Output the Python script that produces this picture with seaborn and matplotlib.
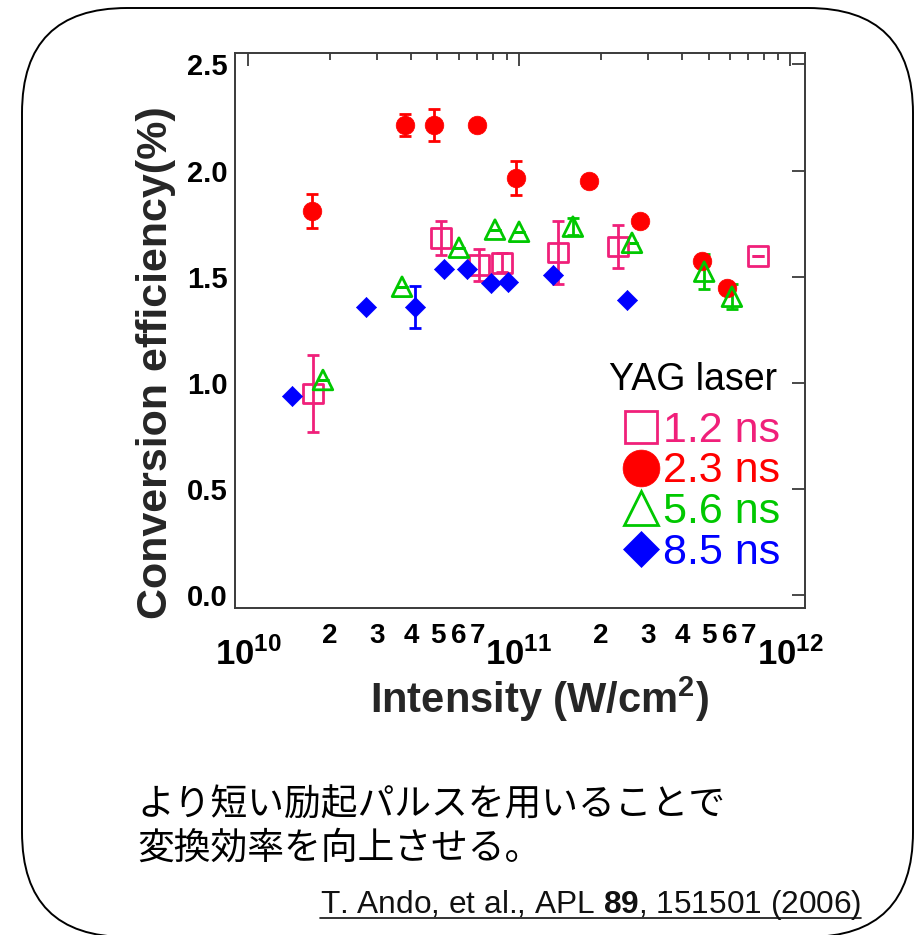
import numpy as np
import pandas as pd
import matplotlib
matplotlib.use("Agg")
import matplotlib.pyplot as plt
import seaborn as sns
from matplotlib.patches import FancyBboxPatch
from matplotlib.ticker import FixedLocator, FixedFormatter
from matplotlib.lines import Line2D

# ---------------- data ----------------
pulse_labels = ["1.2 ns", "2.3 ns", "5.6 ns", "8.5 ns"]

i12_x = [1.74e10, 5.15e10, 7.1e10, 8.65e10, 1.39e11, 2.32e11, 7.62e11]
i12_y = [0.95, 1.684, 1.557, 1.566, 1.615, 1.642, 1.599]
i12_err = [0.18, 0.08, 0.075, 0.045, 0.15, 0.10, 0.0]

i23_x = [1.72e10, 3.8e10, 4.85e10, 7.0e10, 9.75e10, 1.81e11, 2.79e11, 4.73e11, 5.86e11]
i23_y = [1.81, 2.215, 2.215, 2.215, 1.965, 1.953, 1.764, 1.575, 1.448]
i23_err = [0.08, 0.05, 0.075, 0.0, 0.08, 0.0, 0.0, 0.0, 0.0]

i56_x = [1.89e10, 3.7e10, 6.0e10, 8.15e10, 1.0e11, 1.58e11, 2.61e11, 4.82e11, 6.1e11]
i56_y = [1.014, 1.453, 1.637, 1.722, 1.712, 1.736, 1.660, 1.524, 1.406]
i56_err = [0.0, 0.0, 0.0, 0.0, 0.0, 0.04, 0.0, 0.083, 0.06]

i85_x = [1.45e10, 2.72e10, 4.13e10, 5.29e10, 6.43e10, 7.9e10, 9.1e10, 1.33e11, 2.5e11]
i85_y = [0.939, 1.358, 1.358, 1.538, 1.538, 1.472, 1.476, 1.509, 1.392]
i85_err = [0.0, 0.0, 0.1, 0.0, 0.0, 0.0, 0.0, 0.0, 0.0]

y_ticks = [0.0, 0.5, 1.0, 1.5, 2.0, 2.5]
y_tick_labels = ["0.0", "0.5", "1.0", "1.5", "2.0", "2.5"]
x_major = [1e10, 1e11, 1e12]
x_major_labels = [r"$\mathrm{10^{10}}$", r"$\mathrm{10^{11}}$", r"$\mathrm{10^{12}}$"]
minor_mult = [2, 3, 4, 5, 6, 7, 8, 9]
minor_labels = ["2", "3", "4", "5", "6", "7", "", ""]

legend_title = "YAG laser"
x_label = r"Intensity (W/cm$^{2}$)"
y_label = "Conversion efficiency(%)"
jp_line1 = "より短い励起パルスを用いることで"
jp_line2 = "変換効率を向上させる。"
citation = r"T. Ando, et al., APL $\mathbf{89}$, 151501 (2006)"

colors = {"1.2 ns": "#F0207A", "2.3 ns": "#FF0000", "5.6 ns": "#00C800", "8.5 ns": "#0000FF"}

frames = []
for lab, xs, ys, es in zip(pulse_labels, [i12_x, i23_x, i56_x, i85_x],
                           [i12_y, i23_y, i56_y, i85_y], [i12_err, i23_err, i56_err, i85_err]):
    frames.append(pd.DataFrame({"pulse": lab, "I": xs, "CE": ys, "err": es}))
df = pd.concat(frames, ignore_index=True)

# ---------------- style ----------------
sns.set_theme(style="white")
plt.rcParams["font.family"] = ["Liberation Sans", "DejaVu Sans"]
plt.rcParams["font.weight"] = "bold"
plt.rcParams["mathtext.fontset"] = "custom"
plt.rcParams["mathtext.rm"] = "Liberation Sans:bold"
plt.rcParams["mathtext.it"] = "Liberation Sans:bold"
plt.rcParams["mathtext.bf"] = "Liberation Sans:bold"

W, H = 922, 935
fig = plt.figure(figsize=(W / 100, H / 100), dpi=100)
fig.patch.set_facecolor("white")
ax = fig.add_axes([235 / W, 1 - 608 / H, 570 / W, 555 / H])
ax.set_xscale("log")

specs = {
    "1.2 ns": dict(marker="s", s=200, filled=False),
    "2.3 ns": dict(marker="o", s=180, filled=True),
    "5.6 ns": dict(marker="^", s=200, filled=False),
    "8.5 ns": dict(marker="D", s=105, filled=True),
}

for lab in pulse_labels:
    sub = df[df["pulse"] == lab]
    c = colors[lab]
    sp = specs[lab]
    ax.errorbar(sub["I"], sub["CE"], yerr=sub["err"], fmt="none", ecolor=c,
                elinewidth=2, capsize=4.5, capthick=2, zorder=2)
    sns.scatterplot(data=sub, x="I", y="CE", marker=sp["marker"], s=sp["s"],
                    color=c, ax=ax, legend=False, zorder=3)
    coll = ax.collections[-1]
    if sp["filled"]:
        coll.set_facecolor(c)
        coll.set_edgecolor(c)
        coll.set_linewidth(0.5)
    else:
        coll.set_facecolor("none")
        coll.set_edgecolor(c)
        coll.set_linewidth(2.0)

ax.set_xlim(10 ** 9.952, 10 ** 12.055)
ax.set_ylim(-0.06, 2.554)

ax.xaxis.set_major_locator(FixedLocator(x_major))
ax.xaxis.set_major_formatter(FixedFormatter(x_major_labels))
minor_pos = [m * d for d in [1e10, 1e11] for m in minor_mult]
ax.xaxis.set_minor_locator(FixedLocator(minor_pos))
ax.xaxis.set_minor_formatter(FixedFormatter(minor_labels * 2))
ax.yaxis.set_major_locator(FixedLocator(y_ticks))
ax.yaxis.set_major_formatter(FixedFormatter(y_tick_labels))

spine_c = "#3a3a3a"
for s in ax.spines.values():
    s.set_visible(True)
    s.set_linewidth(1.4)
    s.set_color(spine_c)
ax.tick_params(axis="both", which="both", direction="in", top=True, right=True,
               color=spine_c, width=1.3, labelcolor="black")
ax.tick_params(axis="both", which="major", length=9.4)
ax.tick_params(axis="x", which="minor", length=5, labelsize=20, pad=11)
ax.tick_params(axis="x", which="major", labelsize=25, pad=21)
ax.tick_params(axis="y", which="major", labelsize=21, pad=5)

ax.set_ylabel(y_label, fontsize=31, fontweight="bold")
ax.yaxis.set_label_coords(-0.1035, 0.443)
ax.set_xlabel(x_label, fontsize=30, fontweight="bold")
ax.xaxis.label.set_va("baseline")
ax.xaxis.set_label_coords(0.535, -(713 - 608) / 555)

# ---------------- legend (text + keys) ----------------
ax.text(0.951, (608 - 390) / 555, legend_title, transform=ax.transAxes, ha="right",
        va="baseline", fontsize=27, fontweight="normal", color="black")
base_px = [442, 482.5, 523, 563.5]
key_ms = {"1.2 ns": 23, "2.3 ns": 26.5, "5.6 ns": 25, "8.5 ns": 18.8}
for lab, bp in zip(pulse_labels, base_px):
    c = colors[lab]
    sp = specs[lab]
    ax.plot([0.712], [(608 - (bp - 15)) / 555], transform=ax.transAxes, marker=sp["marker"],
            ms=key_ms[lab], mfc=c if sp["filled"] else "none", mec=c,
            mew=2.0 if not sp["filled"] else 0.5, ls="none", clip_on=False)
    ax.text(0.751, (608 - bp) / 555, lab, transform=ax.transAxes, ha="left",
            va="baseline", fontsize=31, fontweight="normal", color=c)

# ---------------- Japanese text and citation ----------------
jp_font = ["Noto Sans CJK JP", "DejaVu Sans"]
fig.text(137 / W, 1 - 815 / H, jp_line1, family=jp_font, fontsize=26.5,
         fontweight="normal", va="baseline", ha="left", color="black")
fig.text(137 / W, 1 - 859 / H, jp_line2, family=jp_font, fontsize=26.5,
         fontweight="normal", va="baseline", ha="left", color="black")
cit = fig.text(320 / W, 1 - 913 / H, citation, fontsize=22.8, fontweight="normal",
               va="baseline", ha="left", color="#111111")

renderer = fig.canvas.get_renderer()
bb = cit.get_window_extent(renderer)
uy = (H - 918) / H
fig.add_artist(Line2D([bb.x0 / W, bb.x1 / W], [uy, uy], transform=fig.transFigure,
                      color="#111111", lw=1.2))

# ---------------- rounded frame ----------------
frame = FancyBboxPatch((0.22, -0.02), 8.91, 9.29,
                       boxstyle="round,pad=0,rounding_size=1.05",
                       transform=fig.dpi_scale_trans, fill=False, ec="black", lw=1.4,
                       clip_on=False)
fig.add_artist(frame)

fig.savefig("out.png", dpi=100)
